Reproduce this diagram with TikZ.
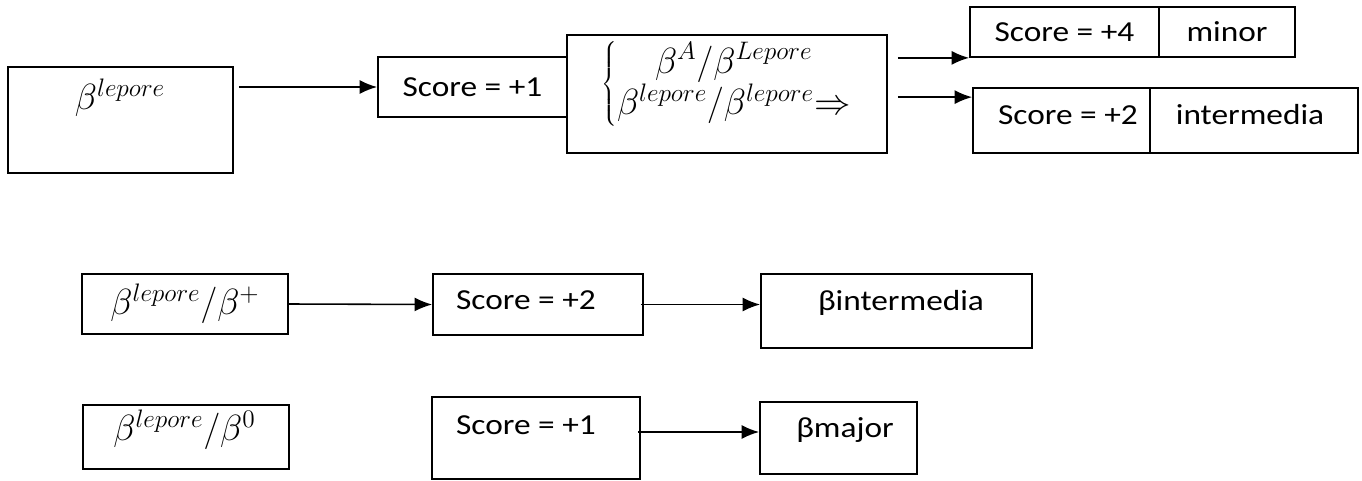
\documentclass[tikz,border=0pt]{standalone}
\usepackage{fontspec}
\setmainfont{Carlito}[FakeStretch=1.15]
\usetikzlibrary{arrows.meta,calc}
\tikzset{
  box/.style={draw,line width=1pt,fill=white,inner sep=0pt},
  boxsize/.style 2 args={minimum width=#1*0.02cm,minimum height=#2*0.02cm},
  arr/.style={-{Latex[length=10pt,width=8pt]},line width=0.9pt},
  txt/.style={font=\fontsize{16.5}{20}\selectfont,inner sep=0pt},
  mth/.style={font=\fontsize{20}{24}\selectfont,inner sep=0pt}
}

\begin{document}
\begin{tikzpicture}[x=0.02cm,y=-0.02cm]
\useasboundingbox (0,0) rectangle (1362,480);

% top row
\node[box,boxsize={225}{106}] (A) at (120.5,120) {};
\node[mth] (Atxt) at (120,98) {$\beta^{lepore}$};
\node[box,boxsize={189}{60},txt] (B) at (472.5,87) {Score = +1};
\node[box,boxsize={320}{118}] (C) at (727,94) {};
\node[mth] (Ctxt) at (727,84) {$\left\{\renewcommand{\arraystretch}{0.85}\begin{array}{@{}c@{}}
  \beta^A/\beta^{Lepore}\\ \beta^{lepore}/\beta^{lepore}{\Rightarrow}\end{array}\right.$};

\node[box,boxsize={189}{50},txt] (D1) at (1064.5,32) {Score = +4};
\node[box,boxsize={136}{50},txt] (D2) at (1227,32) {minor};
\node[box,boxsize={177}{65}] (E1) at (1061.5,120.5) {};
\node[box,boxsize={208}{65}] (E2) at (1254,120.5) {};
\node[txt] (E1txt) at (1068,115) {Score = +2};
\node[txt] (E2txt) at (1250,115) {intermedia};

\draw[arr] ($(A.east |- B.west)+(5,0)$) -- (B.west);
\draw[arr] ($(C.east |- D1.south)+(10,0)$) -- (D1.south west);
\coordinate (e1in) at ($(E1.north west)+(0,10)$);
\draw[arr] ($(C.east |- e1in)+(10,0)$) -- (e1in);

% middle row
\node[box,boxsize={206}{60},mth] (F) at (185,304) {$\beta^{lepore}/\beta^{+}$};
\node[box,boxsize={210}{61}] (G) at (538,304.5) {};
\node[txt] (Gtxt) at (526,300) {Score = +2};
\node[box,boxsize={271}{74}] (J) at (896.5,311) {};
\node[txt] (Jtxt) at (901,303) {βintermedia};

\draw[arr] (F.east) -- (G.west);
\draw[arr] ($(G.east)+(-3,0)$) -- (G.east -| J.west);

% bottom row
\node[box,boxsize={206}{64}] (H) at (186,437) {};
\node[mth] (Htxt) at (184.5,430) {$\beta^{lepore}/\beta^{0}$};
\node[box,boxsize={208}{82}] (I) at (536,438) {};
\node[txt] (Itxt) at (526,425) {Score = +1};
\node[box,boxsize={157}{72}] (K) at (838.5,438) {};
\node[txt] (Ktxt) at (845,430) {βmajor};

\coordinate (kin) at ($(K.west)+(0,-6)$);
\draw[arr] ($(I.east |- kin)+(-3,0)$) -- (kin);
\end{tikzpicture}
\end{document}
